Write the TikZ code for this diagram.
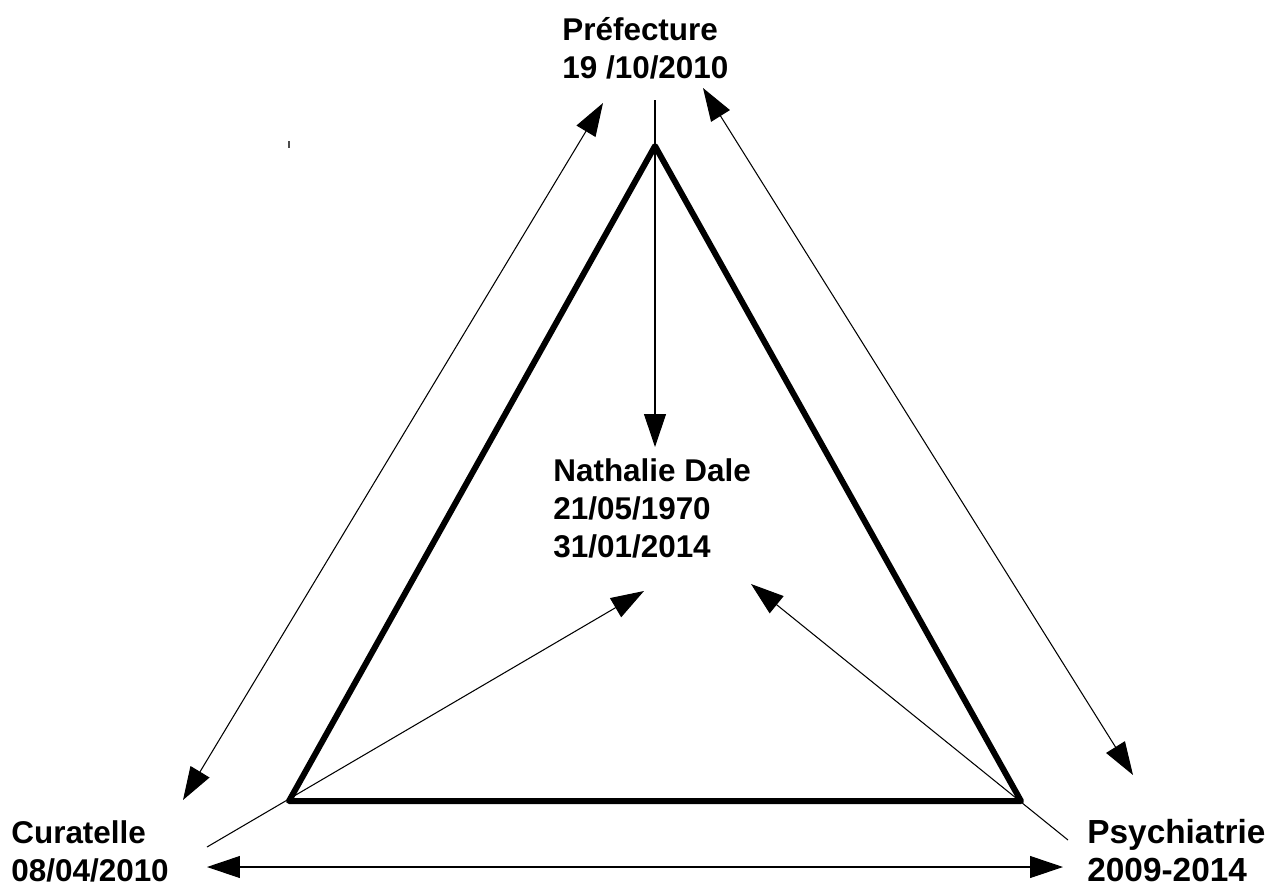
\documentclass[tikz,border=0pt]{standalone}
\usepackage{fontspec}
\setmainfont{Liberation Sans}
\usetikzlibrary{arrows.meta}
\begin{document}
\begin{tikzpicture}[x=0.02cm,y=-0.02cm,
  lbl/.style={anchor=base west,inner sep=0pt,align=left,font=\fontsize{17.9}{21.5}\selectfont\bfseries},
  biglbl/.style={lbl,font=\fontsize{19}{21.5}\selectfont\bfseries},
  tri/.style={line width=3.4pt,line join=round,line cap=round},
  conn/.style={line width=0.6pt},
  tip/.style={-{Triangle[length=0.66cm,width=0.44cm]}},
  tips/.style={{Triangle[length=0.66cm,width=0.44cm]}-{Triangle[length=0.66cm,width=0.44cm]}}]
\useasboundingbox (0,0) rectangle (1268,887);
% labels (anchor = baseline of last line)
\node[lbl] (pref) at (562,78) {Préfecture\\19 /10/2010};
\node[lbl] (cur) at (11,881) {Curatelle\\08/04/2010};
\node[biglbl] (psy) at (1087,881) {Psychiatrie\\2009-2014};
\node[lbl] (nat) at (553,557) {Nathalie Dale\\21/05/1970\\31/01/2014};
% triangle
\coordinate (A) at (655,146);
\coordinate (B) at (289,801);
\coordinate (C) at (1021,801);
\draw[tri] (A) -- (B) -- (C) -- cycle;
% connector ends
\coordinate (p0) at (655,100);
\coordinate (p1) at (655,447);
\coordinate (l1) at (603,103);
\coordinate (l2) at (183,800);
\coordinate (r1) at (703,88);
\coordinate (r2) at (1133,775);
\coordinate (h1) at (207,867);
\coordinate (h2) at (1063,867);
\coordinate (c0) at (207,847);
\coordinate (c1) at (644,591);
\coordinate (s0) at (1068,840);
\coordinate (s1) at (751,584);
\draw[conn,tip] (p0) -- (p1);
\draw[conn,tips] (l1) -- (l2);
\draw[conn,tips] (r1) -- (r2);
\draw[conn,tips] (h1) -- (h2);
\draw[conn,tip] (c0) -- (c1);
\draw[conn,tip] (s0) -- (s1);
% stray tick
\coordinate (t0) at (289,141);
\coordinate (t1) at (289,148);
\draw[line width=0.6pt,black!70] (t0) -- (t1);
\end{tikzpicture}
\end{document}
